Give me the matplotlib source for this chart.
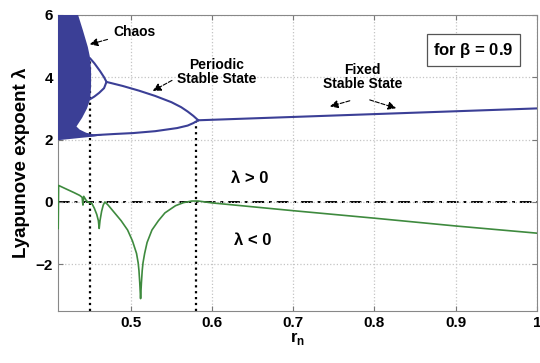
import matplotlib.pyplot as plt

chaos_x = [0.41, 0.435, 0.441, 0.447, 0.450, 0.451, 0.451, 0.450, 0.446, 0.440, 0.433,
           0.437, 0.445, 0.455, 0.465, 0.455, 0.440, 0.425, 0.41]
chaos_y = [6.0, 6.0, 5.5, 4.97, 4.6, 4.2, 3.7, 3.3, 3.0, 2.7, 2.42,
           2.32, 2.22, 2.16, 2.14, 2.10, 2.06, 2.02, 1.98]

bubble_x = [0.450, 0.455, 0.462, 0.467, 0.470, 0.467, 0.461, 0.455, 0.450]
bubble_y = [4.60, 4.45, 4.20, 4.00, 3.85, 3.65, 3.50, 3.38, 3.30]

upper_x = [0.470, 0.490, 0.510, 0.530, 0.550, 0.562, 0.570, 0.577, 0.583]
upper_y = [3.85, 3.72, 3.57, 3.40, 3.20, 3.04, 2.90, 2.76, 2.62]

lower_x = [0.44, 0.46, 0.48, 0.503, 0.53, 0.557, 0.570, 0.577, 0.583]
lower_y = [2.12, 2.15, 2.18, 2.21, 2.27, 2.37, 2.45, 2.53, 2.62]

fixed_x = [0.583, 1.0]
fixed_y = [2.62, 3.0]

lyap_x = [0.4105, 0.411, 0.42, 0.43, 0.437, 0.44, 0.441, 0.442, 0.445, 0.447, 0.452,
          0.455, 0.458, 0.460, 0.461, 0.462, 0.464, 0.466, 0.468, 0.472, 0.48, 0.488,
          0.496, 0.502, 0.507, 0.509, 0.510, 0.511, 0.512, 0.513, 0.514, 0.515, 0.517,
          0.52, 0.526, 0.534, 0.542, 0.555, 0.565, 0.575, 0.583, 0.6, 0.7, 0.8, 0.9, 1.0]
lyap_y = [-0.85, 0.53, 0.42, 0.30, 0.21, 0.15, -0.10, 0.18, 0.05, 0.0, -0.05,
          -0.20, -0.40, -0.60, -0.85, -0.60, -0.30, -0.10, 0.0, -0.10, -0.35, -0.60,
          -0.90, -1.25, -1.65, -1.95, -2.20, -2.60, -3.10, -2.60, -2.20, -1.95, -1.65,
          -1.30, -0.90, -0.60, -0.35, -0.12, -0.02, 0.03, 0.03, -0.03, -0.28, -0.52,
          -0.77, -1.0]

xticks = [0.5, 0.6, 0.7, 0.8, 0.9, 1.0]
xlabels = ['0.5', '0.6', '0.7', '0.8', '0.9', '1']
yticks = [-2, 0, 2, 4, 6]

plt.rcParams['font.family'] = ['Liberation Sans', 'DejaVu Sans']

blue = '#3b3f96'
green = '#3e8a3e'

fig = plt.figure(figsize=(5.4, 3.63), dpi=100)
ax = fig.add_axes([0.107, 0.143, 0.887, 0.816])

ax.plot([0.45, 0.45], [-3.5, 4.6], ':', color='black', lw=1.6, zorder=1)
ax.plot([0.58, 0.58], [-3.5, 2.6], ':', color='black', lw=1.6, zorder=1)
ax.axhline(0, color='black', lw=1.4, dashes=(6, 2.5, 1.5, 2.5), zorder=1)

ax.fill(chaos_x, chaos_y, color=blue, lw=0, zorder=3)
ax.plot(bubble_x, bubble_y, color=blue, lw=1.5, zorder=3)
ax.plot(upper_x, upper_y, color=blue, lw=1.5, zorder=3)
ax.plot(lower_x, lower_y, color=blue, lw=1.5, zorder=3)
ax.plot(fixed_x, fixed_y, color=blue, lw=1.5, zorder=3)
ax.plot(lyap_x, lyap_y, color=green, lw=1.2, zorder=3)

ax.set_xlim(0.41, 1.0)
ax.set_ylim(-3.5, 6)
ax.set_xticks(xticks)
ax.set_xticklabels(xlabels)
ax.set_yticks(yticks)
ax.grid(True, ls=':', color='#c4c4c4', lw=0.9)
ax.tick_params(direction='in', top=True, right=True, labelsize=11, color='#777777')
for lab in ax.get_xticklabels() + ax.get_yticklabels():
    lab.set_fontweight('bold')
for sp in ax.spines.values():
    sp.set_color('#888888')

ax.set_ylabel('Lyapunove expoent λ', fontsize=13.5, fontweight='bold', labelpad=4)
ax.set_xlabel('r$_\\mathregular{n}$', fontsize=12, fontweight='bold', labelpad=0)

arrow = dict(arrowstyle='-|>', color='black', lw=0.8, linestyle='--', mutation_scale=12)
ax.annotate('Chaos', xy=(0.446, 5.03), xytext=(0.478, 5.45), fontsize=10,
            fontweight='bold', va='center', ha='left', arrowprops=arrow)
ax.annotate('Periodic\nStable State', xy=(0.524, 3.52), xytext=(0.606, 4.17), fontsize=10,
            fontweight='bold', va='center', ha='center', linespacing=1.0,
            arrowprops=dict(arrow, relpos=(0.0, 0.3)))
ax.text(0.785, 4.0, 'Fixed\nStable State', fontsize=10, fontweight='bold',
        ha='center', va='center', linespacing=1.0)
ax.annotate('', xy=(0.742, 3.04), xytext=(0.773, 3.27), arrowprops=arrow)
ax.annotate('', xy=(0.83, 2.98), xytext=(0.791, 3.3), arrowprops=arrow)

ax.text(0.922, 4.87, 'for $\\mathregular{\\beta}$ = 0.9', fontsize=12, fontweight='bold',
        ha='center', va='center',
        bbox=dict(boxstyle='square,pad=0.4', fc='white', ec='#555555', lw=0.9))
ax.text(0.647, 0.76, 'λ > 0', fontsize=12, fontweight='bold', ha='center', va='center')
ax.text(0.65, -1.23, 'λ < 0', fontsize=12, fontweight='bold', ha='center', va='center')

fig.savefig('out.png', dpi=100)
